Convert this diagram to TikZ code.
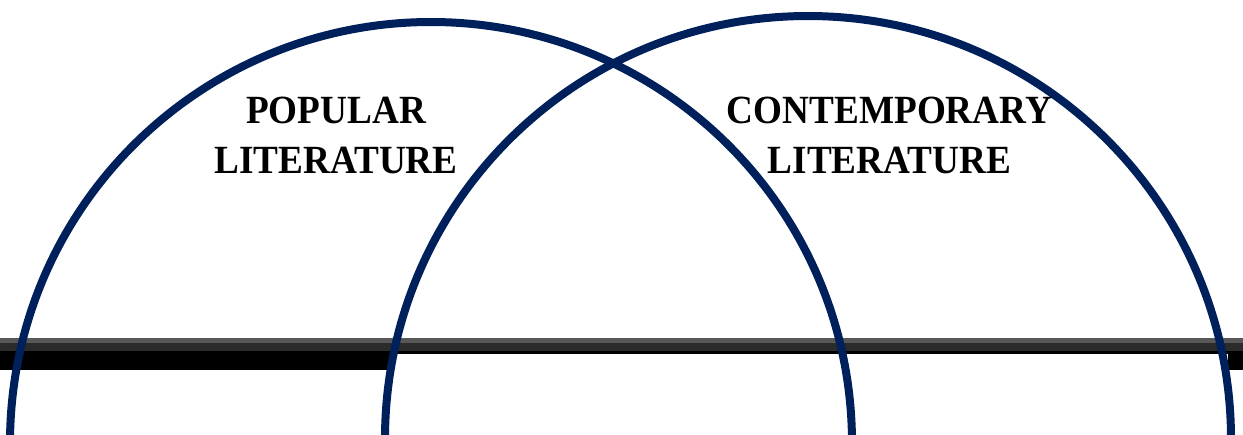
\documentclass[tikz,border=0pt]{standalone}
\usepackage{fontspec}
\newfontfamily\labfont[FakeStretch=0.93]{Liberation Serif}
\definecolor{navy}{HTML}{00205B}
\definecolor{bargray}{HTML}{585858}
\definecolor{bardark}{HTML}{2B2B2B}
\tikzset{
  ring/.style={draw=navy, line width=8pt},
  lab/.style={font=\labfont\bfseries\fontsize{40}{50}\selectfont, text=black, anchor=base, inner sep=0pt}
}
\begin{document}
\begin{tikzpicture}[x=1pt,y=-1pt]
\useasboundingbox (0,0) rectangle (1243,434);
\clip (0,0) rectangle (1243,434);
% bar
\fill[bargray] (0,338) rectangle (1243,343);
\fill[bardark] (0,343) rectangle (1243,351);
\fill[black] (0,351) rectangle (1243,354);
\fill[black] (0,351) rectangle (392,370);
\fill[black] (1228,351) rectangle (1243,370);
% circles
\node[ring, circle, minimum size=842pt, inner sep=0pt] (popular) at (431,443) {};
\node[ring, circle, minimum size=846pt, inner sep=0pt] (contemporary) at (808,439) {};
% labels
\node[lab] (pop1) at (336,123) {POPULAR};
\node[lab] (pop2) at (336,173) {LITERATURE};
\node[lab] (con1) at (889.5,123) {CONTEMPORARY};
\node[lab] (con2) at (889.5,173) {LITERATURE};
\end{tikzpicture}
\end{document}
